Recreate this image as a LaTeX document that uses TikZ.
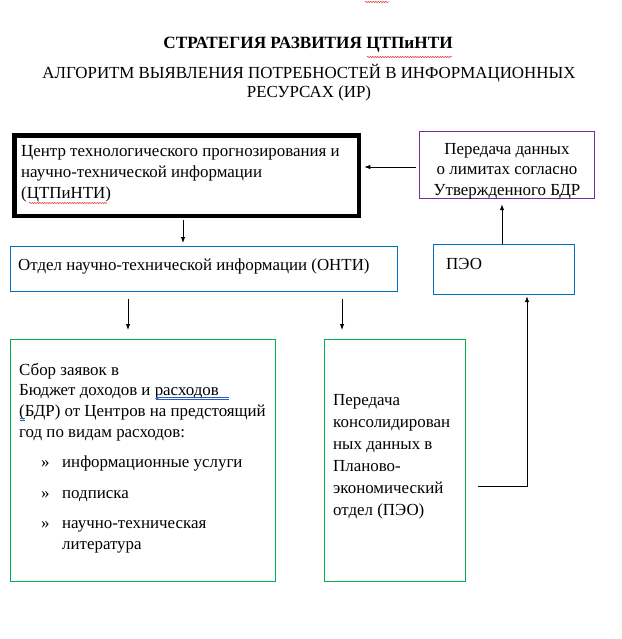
\documentclass[tikz,border=0pt]{standalone}
\usepackage{fontspec}
\setmainfont{Liberation Serif}
\usetikzlibrary{arrows.meta,decorations.pathmorphing}
\definecolor{boxpurple}{RGB}{112,48,160}
\definecolor{boxblue}{RGB}{0,112,192}
\definecolor{boxgreen}{RGB}{0,176,80}
\definecolor{spellred}{RGB}{230,30,30}
\definecolor{gramblue}{RGB}{40,90,200}
\begin{document}
\begin{tikzpicture}[x=1pt,y=-1pt,
  box/.style={draw,line width=1.2pt,inner sep=0pt,anchor=north west},
  txt/.style={anchor=base west,inner sep=0pt,font=\fontsize{16.9}{21}\selectfont},
  ctxt/.style={anchor=base,inner sep=0pt,font=\fontsize{16.9}{21}\selectfont},
  arr/.style={line width=0.9pt,-{Latex[length=6pt,width=4.5pt]}},
  wavy/.style={spellred,line width=0.5pt,decorate,decoration={snake,amplitude=0.6pt,segment length=2.5pt}}
]
\useasboundingbox (0,0) rectangle (621,639);
% cut-off spelling mark at the top edge
\draw[wavy] (365,2) -- (389,2);
% titles
\node[ctxt,font=\fontsize{17.2}{21}\selectfont\bfseries] (t1) at (308,49) {СТРАТЕГИЯ РАЗВИТИЯ ЦТПиНТИ};
\node[ctxt] (t2) at (309,79) {АЛГОРИТМ ВЫЯВЛЕНИЯ ПОТРЕБНОСТЕЙ В ИНФОРМАЦИОННЫХ};
\node[ctxt] (t3) at (309,98) {РЕСУРСАХ (ИР)};
\draw[wavy] (367,57) -- (452,57);
% boxes
\node[box,line width=4.5pt,minimum width=344.5pt,minimum height=80.5pt] (A) at (12.25,133.25) {};
\node[box,draw=boxpurple,minimum width=175pt,minimum height=67pt] (B) at (419,131) {};
\node[box,draw=boxblue,minimum width=387pt,minimum height=45pt] (C) at (10,246) {};
\node[box,draw=boxblue,minimum width=141pt,minimum height=50pt] (D) at (433,244) {};
\node[box,draw=boxgreen,minimum width=265pt,minimum height=242pt] (E) at (10,339) {};
\node[box,draw=boxgreen,minimum width=141pt,minimum height=242pt] (F) at (324,339) {};
% box A text
\node[txt] (a1) at (21,157) {Центр технологического прогнозирования и};
\node[txt] (a2) at (21,178) {научно-технической информации};
\node[txt] (a3) at (21,198) {(ЦТПиНТИ)};
\draw[wavy] (29,203) -- (107,203);
% box B text
\node[ctxt] (b1) at (507,154.5) {Передача данных};
\node[ctxt] (b2) at (507,175) {о лимитах согласно};
\node[ctxt] (b3) at (507,195) {Утвержденного БДР};
% box C, D
\node[txt] (c1) at (18,270) {Отдел научно-технической информации (ОНТИ)};
\node[txt] (d1) at (446,269) {ПЭО};
% box E
\node[txt] (e1) at (19,375) {Сбор заявок в};
\node[txt] (e2) at (19,395) {Бюджет доходов и расходов};
\node[txt] (e3) at (19,416) {(БДР) от Центров на предстоящий};
\node[txt] (e4) at (19,437) {год по видам расходов:};
\node[txt] (e5m) at (41,467) {»};
\node[txt] (e5) at (62,467) {информационные услуги};
\node[txt] (e6m) at (41,498) {»};
\node[txt] (e6) at (62,498) {подписка};
\node[txt] (e7m) at (41,528) {»};
\node[txt] (e7) at (62,528) {научно-техническая};
\node[txt] (e8) at (62,549) {литература};
\draw[gramblue,line width=0.5pt] (156,397.5) -- (229,397.5);
\draw[gramblue,line width=0.5pt] (156,399.5) -- (229,399.5);
\draw[gramblue,line width=0.5pt] (20,418) -- (25,418);
\draw[gramblue,line width=0.5pt] (20,420) -- (25,420);
% box F
\node[txt] (f1) at (333,405) {Передача};
\node[txt] (f2) at (333,427) {консолидирован};
\node[txt] (f3) at (333,449) {ных данных в};
\node[txt] (f4) at (333,471) {Планово-};
\node[txt] (f5) at (333,493) {экономический};
\node[txt] (f6) at (333,515) {отдел (ПЭО)};
% connectors
\coordinate (xa) at (183,0);
\coordinate (xb) at (502,0);
\coordinate (xe) at (128,0);
\coordinate (xf) at (342,0);
\coordinate (xd) at (527,0);
\coordinate (ya) at (0,167);
\coordinate (fstart) at (478,486);
\draw[arr] (B.west |- ya) ++(-3,0) -- ([xshift=3pt]A.east |- ya);
\draw[arr] ([yshift=-2pt]A.south -| xa) -- ([yshift=3pt]C.north -| xa);
\draw[arr] (D.north -| xb) -- ([yshift=-5pt]B.south -| xb);
\draw[arr] ([yshift=-7pt]C.south -| xe) -- ([yshift=9pt]E.north -| xe);
\draw[arr] ([yshift=-7pt]C.south -| xf) -- ([yshift=9pt]F.north -| xf);
\draw[arr] (fstart) -| ([yshift=-1pt]D.south -| xd);
\end{tikzpicture}
\end{document}
